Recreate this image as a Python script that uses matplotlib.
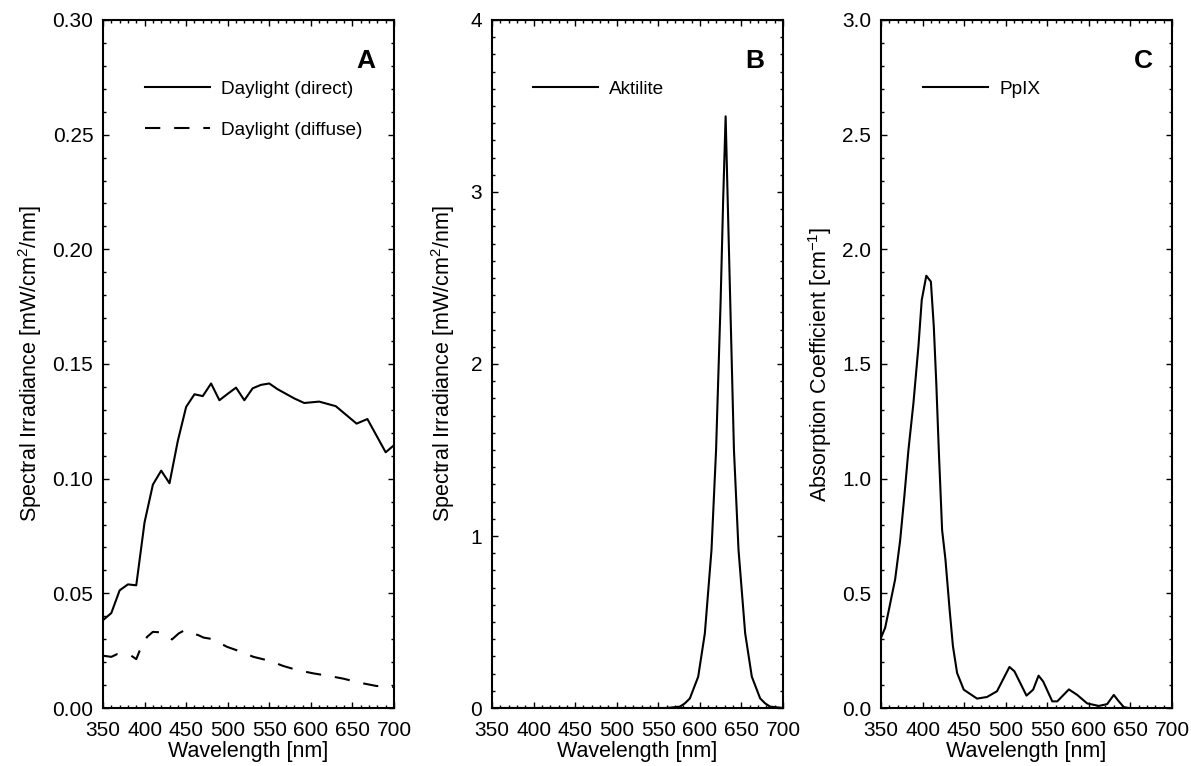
import matplotlib
matplotlib.use("Agg")
import matplotlib.pyplot as plt
from matplotlib.ticker import MultipleLocator, FormatStrFormatter

# ---------------- data ----------------
# Panel A: daylight spectra
wl_direct = [350, 360, 370, 380, 390, 400, 410, 420, 430, 440, 450, 460, 470, 480,
             490, 500, 510, 520, 530, 540, 550, 560, 570, 580, 592, 610, 630, 655,
             668, 690, 700]
direct = [0.0383, 0.0414, 0.0513, 0.0539, 0.0535, 0.0810, 0.0974, 0.1035, 0.0980,
          0.1165, 0.1313, 0.1368, 0.1360, 0.1415, 0.1342, 0.1370, 0.1397, 0.1342,
          0.1394, 0.1409, 0.1415, 0.1390, 0.1370, 0.1350, 0.1330, 0.1336, 0.1316,
          0.1240, 0.1260, 0.1115, 0.1146]

wl_diffuse = [350, 360, 367, 384, 390, 394, 403, 410, 419, 433, 441, 448, 465, 471,
              481, 499, 513, 531, 550, 567, 584, 603, 623, 639, 659, 679, 693, 700]
diffuse = [0.0228, 0.0223, 0.0235, 0.0228, 0.0213, 0.0249, 0.0310, 0.0332, 0.0330,
           0.0299, 0.0325, 0.0339, 0.0317, 0.0307, 0.0301, 0.0267, 0.0249, 0.0223,
           0.0206, 0.0183, 0.0165, 0.0151, 0.0139, 0.0128, 0.0110, 0.0096, 0.0093,
           0.0092]

# Panel B: Aktilite lamp
wl_aktilite = [350, 560, 576, 582, 588, 598, 606, 614, 619.5, 625, 628, 631, 633.5,
               636.5, 641, 646.5, 654.5, 662.5, 672.5, 678.5, 684.5, 700]
aktilite = [0.0, 0.0, 0.008, 0.027, 0.056, 0.182, 0.434, 0.919, 1.50, 2.37, 2.95,
            3.44, 2.95, 2.37, 1.50, 0.919, 0.434, 0.182, 0.056, 0.027, 0.008, 0.0]

# Panel C: PpIX absorption
wl_ppix = [350, 355, 360, 367, 373, 378, 383, 389, 395, 399, 404.5, 410, 413.5, 416.5,
           419.5, 423.5, 427.5, 432.5, 436.5, 441.5, 449.5, 465.5, 477.5, 489.5,
           504.5, 510.5, 525, 533, 539.5, 545, 556, 562, 576, 586, 598, 612, 622,
           630, 636, 642, 648]
ppix = [0.306, 0.35, 0.437, 0.561, 0.73, 0.92, 1.125, 1.329, 1.576, 1.779, 1.885,
        1.859, 1.663, 1.416, 1.125, 0.776, 0.648, 0.43, 0.27, 0.153, 0.08, 0.041,
        0.048, 0.073, 0.179, 0.16, 0.054, 0.08, 0.141, 0.116, 0.029, 0.029, 0.081,
        0.057, 0.02, 0.009, 0.017, 0.057, 0.029, 0.004, 0.0]

xticks = [350, 400, 450, 500, 550, 600, 650, 700]

# ---------------- style ----------------
plt.rcParams['font.family'] = ['Liberation Sans', 'DejaVu Sans']
plt.rcParams['mathtext.fontset'] = 'custom'
plt.rcParams['mathtext.rm'] = 'Liberation Sans'
plt.rcParams['mathtext.it'] = 'Liberation Sans'
plt.rcParams['lines.scale_dashes'] = False

W, H = 1191, 766
fig = plt.figure(figsize=(W / 100, H / 100), dpi=100)

def make_axes(left_px):
    return fig.add_axes([left_px / W, (H - 708) / H, 291 / W, 688 / H])

axA = make_axes(103)
axB = make_axes(492)
axC = make_axes(881)

LW = 1.5
TICK_FS = 15
LAB_FS = 15.5
LEG_FS = 13.7

def style(ax, ymax, ymajor, yminor, yfmt):
    ax.set_xlim(350, 700)
    ax.set_ylim(0, ymax)
    ax.set_xticks(xticks)
    ax.xaxis.set_minor_locator(MultipleLocator(10))
    ax.yaxis.set_major_locator(MultipleLocator(ymajor))
    ax.yaxis.set_minor_locator(MultipleLocator(yminor))
    ax.yaxis.set_major_formatter(FormatStrFormatter(yfmt))
    ax.tick_params(which='both', direction='in', top=True, right=True,
                   labelsize=TICK_FS, width=1.0)
    ax.tick_params(which='major', length=4.5)
    ax.tick_params(which='minor', length=2.5)
    ax.tick_params(axis='y', which='major', pad=7)
    ax.tick_params(axis='x', which='major', pad=9)
    for s in ax.spines.values():
        s.set_linewidth(1.5)
    ax.set_xlabel('Wavelength [nm]', fontsize=LAB_FS, labelpad=1)

# Panel A
axA.plot(wl_direct, direct, color='black', lw=LW, label='Daylight (direct)')
axA.plot(wl_diffuse, diffuse, color='black', lw=LW, dashes=(11, 10),
         label='Daylight (diffuse)')
style(axA, 0.30, 0.05, 0.01, '%.2f')
axA.set_ylabel('Spectral Irradiance [mW/cm$^2$/nm]', fontsize=LAB_FS, labelpad=6)

# Panel B
axB.plot(wl_aktilite, aktilite, color='black', lw=LW, label='Aktilite')
style(axB, 4, 1, 0.1, '%d')
axB.set_ylabel('Spectral Irradiance [mW/cm$^2$/nm]', fontsize=LAB_FS, labelpad=10)

# Panel C
axC.plot(wl_ppix, ppix, color='black', lw=LW, label='PpIX')
style(axC, 3.0, 0.5, 0.1, '%.1f')
axC.set_ylabel('Absorption Coefficient [cm$^{-1}$]', fontsize=LAB_FS, labelpad=6)

def legend(ax, x_px):
    left = (x_px - 103) / 291
    ax.legend(loc='upper left', bbox_to_anchor=(left, 0.912), frameon=False,
              fontsize=LEG_FS, handlelength=3.4, handletextpad=0.6,
              labelspacing=1.25, borderpad=0, borderaxespad=0)

legend(axA, 145)
legend(axB, 533 - 389)
legend(axC, 923 - 778)

for ax, letter in [(axA, 'A'), (axB, 'B'), (axC, 'C')]:
    ax.text(0.935, 0.94, letter, transform=ax.transAxes, ha='right', va='center',
            fontsize=19, fontweight='bold')

fig.savefig('out.png', dpi=100)
